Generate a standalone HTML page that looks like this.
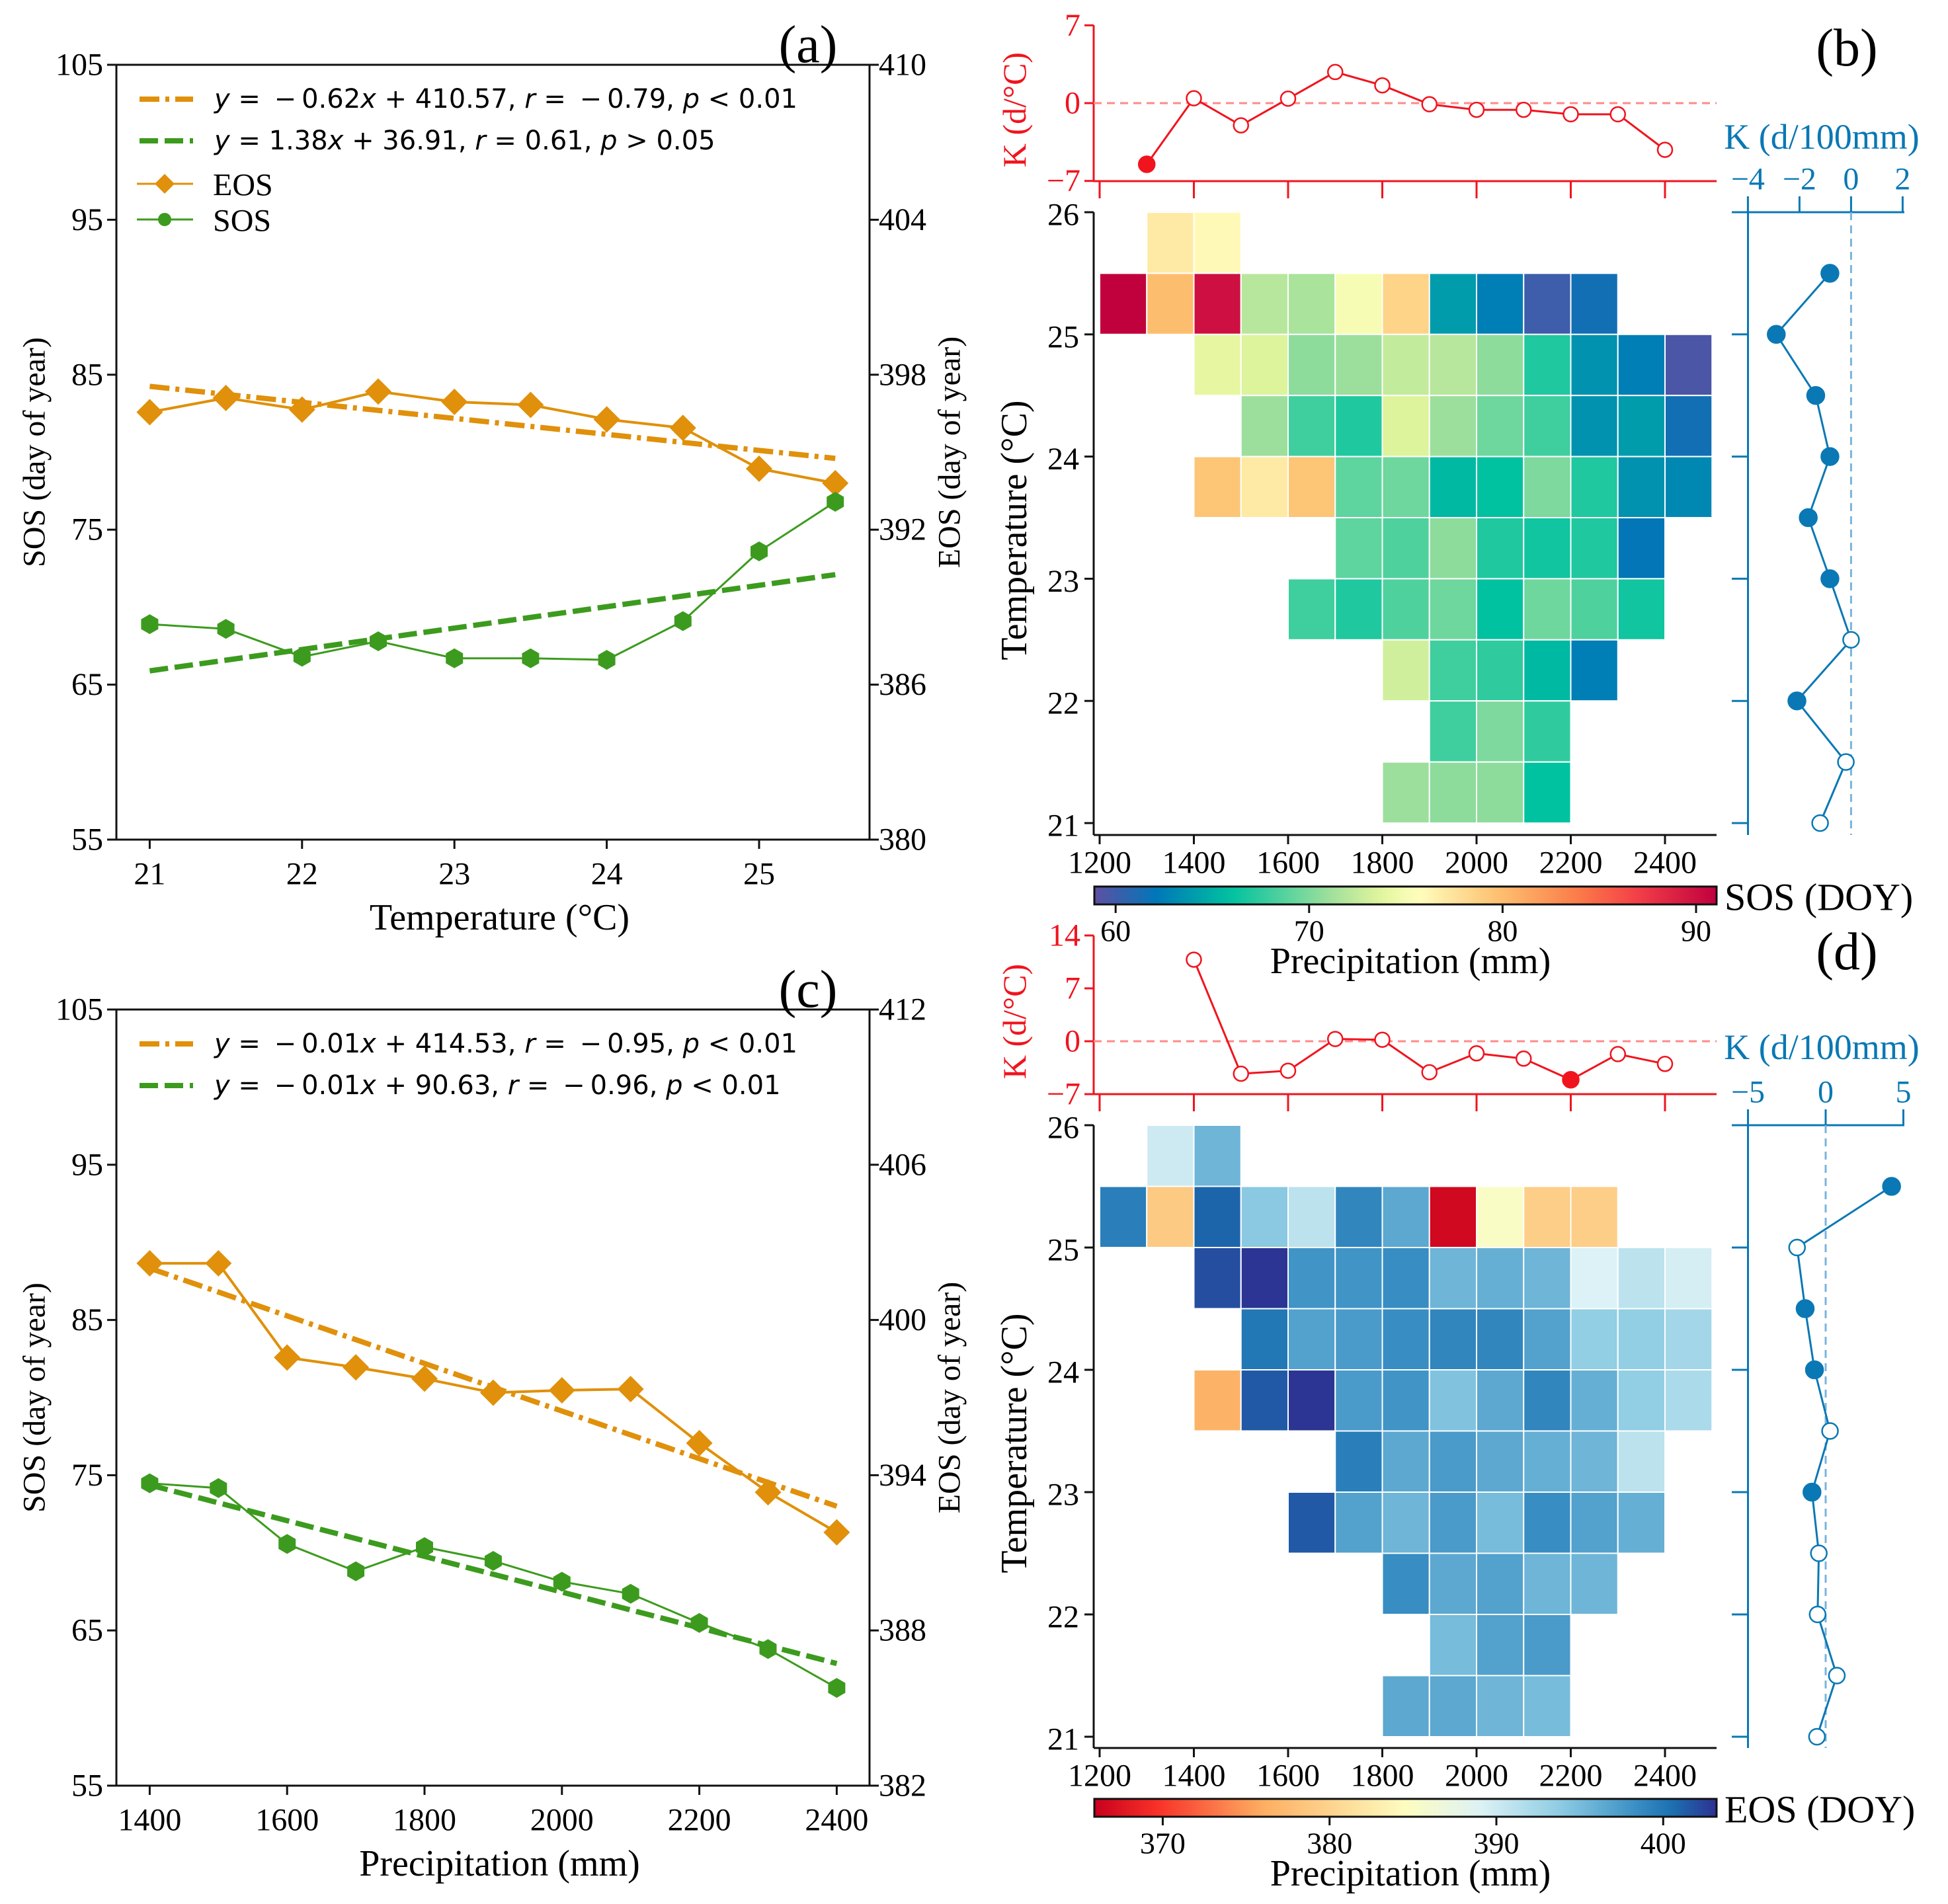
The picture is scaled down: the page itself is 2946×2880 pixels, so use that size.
<!DOCTYPE html>
<html><head><meta charset="utf-8"><style>
html,body{margin:0;padding:0;background:#fff;}
svg{display:block;}
text{font-family:"Liberation Serif",serif;}
.m{font-family:"DejaVu Sans",sans-serif;}
</style></head>
<body>
<svg id="fig" xmlns="http://www.w3.org/2000/svg" width="2946" height="2880" viewBox="0 0 2946 2880"></svg>
<script>
// ---------- DATA ----------
const tempA = [21,21.5,22,22.5,23,23.5,24,24.5,25,25.5];
const eosA = [396.55,397.1,396.65,397.35,396.95,396.83,396.27,395.94,394.36,393.8];
const sosA = [68.9,68.6,66.8,67.8,66.7,66.7,66.6,69.1,73.6,76.8];
const fitEosA = [-0.62,410.57];
const fitSosA = [1.38,36.91];

const precipC = [1400,1500,1600,1700,1800,1900,2000,2100,2200,2300,2400];
const eosC = [402.19,402.19,398.55,398.17,397.73,397.19,397.28,397.33,395.24,393.34,391.79];
const sosC = [74.48,74.17,70.57,68.81,70.37,69.48,68.14,67.36,65.48,63.80,61.30];
const fitEosC = [-0.0092,414.88];
const fitSosC = [-0.0115,90.47];

const kPrecipB = [1300,1400,1500,1600,1700,1800,1900,2000,2100,2200,2300,2400];
const kValB = [-5.5,0.44,-2.0,0.4,2.8,1.6,-0.1,-0.6,-0.6,-1.0,-1.0,-4.2];
const kSigB = [1,0,0,0,0,0,0,0,0,0,0,0];
const kTempLevels = [25.5,25,24.5,24,23.5,23,22.5,22,21.5,21];
const kTValB = [-0.82,-2.9,-1.37,-0.82,-1.66,-0.82,0,-2.1,-0.2,-1.2];
const kTSigB = [1,1,1,1,1,1,0,1,0,0];

const kPrecipD = [1400,1500,1600,1700,1800,1900,2000,2100,2200,2300,2400];
const kValD = [10.8,-4.3,-3.9,0.3,0.2,-4.1,-1.6,-2.3,-5.1,-1.7,-3.0];
const kSigD = [0,0,0,0,0,0,0,0,1,0,0];
const kTValD = [4.24,-1.84,-1.32,-0.72,0.28,-0.88,-0.44,-0.52,0.72,-0.56];
const kTSigD = [1,0,1,1,0,1,0,0,0,0];

const rowT = [25.5,25,24.5,24,23.5,23,22.5,22,21.5,21];
const rowStart = [1300,1200,1400,1500,1400,1700,1600,1800,1900,1800];
const sosRows = [
 [77,76],
 [91,80,90,72,71.5,75,78.5,64,62.5,60,61.5],
 [74,73.5,70.5,71,72.5,72,70.5,67,63.5,62.5,59.5],
 [71,68,67,73.5,71,69.5,68,63.5,64,61.5],
 [79.5,77,79.5,69,69.5,65.5,66,70,67,63.5,63],
 [69,68.5,70.5,67,66.5,67,62],
 [68,67,68.5,69.5,66,69.5,68.5,66.5],
 [73,68,67.5,65.5,62.5],
 [68,70,67.5],
 [71,70.5,70.5,66]
];
const eosRows = [
 [390,395.5],
 [399.5,379,401,394,391,399,396.5,366.5,385,379.5,379.5],
 [402,403,398,398,398.5,395.5,396,395.5,389,391,389.5],
 [400,397,397.5,398.5,399,399,397,393.5,393.5,392.5],
 [376.5,401.5,403,397.5,398,394.5,396.5,399,396,393.5,392],
 [399.5,396.5,397.5,396.5,396,395.5,391],
 [401.5,397,395.5,397.5,395,398.5,397,396],
 [398.5,396.5,397,395.5,395.5],
 [395,397,397.5],
 [396.5,396.5,395.5,395]
];
const sosTicks = [60,70,80,90];
const eosTicks = [370,380,390,400];
const precipTicks = [1200,1400,1600,1800,2000,2200,2400];
const tempTicks = [21,22,23,24,25,26];

// ---------- HELPERS ----------
const NS='http://www.w3.org/2000/svg';
const svg=document.getElementById('fig');
function mk(tag,a,parent){const e=document.createElementNS(NS,tag);for(const k in a)e.setAttribute(k,a[k]);(parent||svg).appendChild(e);return e;}
function txt(s,x,y,size,a,parent){const e=mk('text',Object.assign({x:x,y:y,'font-size':size,'dominant-baseline':'central'},a||{}),parent);e.textContent=s;return e;}
function interp(stops,f){f=Math.max(0,Math.min(1,f));for(let i=1;i<stops.length;i++){if(f<=stops[i][0]){const a=stops[i-1],b=stops[i];const t=(f-a[0])/(b[0]-a[0]||1);const ca=hex(a[1]),cb=hex(b[1]);return 'rgb('+ca.map((c,j)=>Math.round(c+(cb[j]-c)*t)).join(',')+')';}}return stops[stops.length-1][1];}
function hex(h){return [1,3,5].map(i=>parseInt(h.substr(i,2),16));}
const cmapB=[[0,'#5e4fa2'],[0.1,'#0077b8'],[0.22,'#00c2a0'],[0.38,'#a0e09c'],[0.46,'#e2f59c'],[0.52,'#ffffbe'],[0.65,'#fdc070'],[0.78,'#fb7a48'],[0.87,'#f44048'],[1,'#c0003e']];
const cmapD=[[0,'#c8001e'],[0.1,'#f83028'],[0.27,'#fdae61'],[0.5,'#fdfdc0'],[0.62,'#ddf2f6'],[0.75,'#8ccbe2'],[0.87,'#3a8fc4'],[0.93,'#1a6fb0'],[1,'#2e3092']];
const vminB=58.9,vmaxB=91.06,vminD=365.9,vmaxD=403.2;

// ---------- PANEL A / C ----------
const ORANGE='#e0900a', GREEN='#3c9b1e';
function linePanel(cfg){
 const g=mk('g',{});
 
 
 const {L,R,T,B}=cfg;
 const x=cfg.x, yl=v=>T+(105-v)*(B-T)/50, yr=v=>T+(cfg.rTop-v)*(B-T)/30;
 const frame=mk('rect',{x:L,y:T,width:R-L,height:B-T,fill:'none',stroke:'#111','stroke-width':3},g);
 
 
 [55,65,75,85,95,105].forEach(v=>{
  const tk=mk('line',{x1:L-14,x2:L,y1:yl(v),y2:yl(v),stroke:'#111','stroke-width':3},g);
  
  
  const t=txt(String(v),L-20,yl(v),48,{'text-anchor':'end'},g);
  
  
 });
 cfg.rTicks.forEach(v=>{
  const tk=mk('line',{x1:R,x2:R+14,y1:yr(v),y2:yr(v),stroke:'#111','stroke-width':3},g);
  
  
  const t=txt(String(v),R+14,yr(v),48,{'text-anchor':'start'},g);
  
  
 });
 cfg.xTicks.forEach(v=>{
  const tk=mk('line',{x1:x(v),x2:x(v),y1:B,y2:B+14,stroke:'#111','stroke-width':3},g);
  
  
  const t=txt(String(v),x(v),B+52,48,{'text-anchor':'middle'},g);
  
  
 });
 const yt=txt('SOS (day of year)',0,0,48,{'text-anchor':'middle',transform:`translate(${L-124},${(T+B)/2}) rotate(-90)`},g);
 
 
 const yt2=txt('EOS (day of year)',0,0,48,{'text-anchor':'middle',transform:`translate(${R+121},${(T+B)/2}) rotate(-90)`},g);
 
 
 const xt=txt(cfg.xTitle,(L+R)/2+10,B+118,56,{'text-anchor':'middle'},g);
 
 
 const pl=txt(cfg.label,1222,T-30,80,{'text-anchor':'middle'},g);
 
 
 const xs=cfg.xs, x0=xs[0], x1=xs[xs.length-1];
 const fe=mk('line',{x1:x(x0),x2:x(x1),y1:yr(cfg.fitE[0]*x0+cfg.fitE[1]),y2:yr(cfg.fitE[0]*x1+cfg.fitE[1]),stroke:ORANGE,'stroke-width':8,'stroke-dasharray':'30 9 6 9'},g);
 
 
 const fs=mk('line',{x1:x(x0),x2:x(x1),y1:yl(cfg.fitS[0]*x0+cfg.fitS[1]),y2:yl(cfg.fitS[0]*x1+cfg.fitS[1]),stroke:GREEN,'stroke-width':8,'stroke-dasharray':'28 10'},g);
 
 
 const pe=mk('polyline',{points:xs.map((v,i)=>x(v)+','+yr(cfg.eos[i])).join(' '),fill:'none',stroke:ORANGE,'stroke-width':4},g);
 
 
 xs.forEach((v,i)=>{const cx=x(v),cy=yr(cfg.eos[i]);
  const d=mk('polygon',{points:`${cx},${cy-20} ${cx+20},${cy} ${cx},${cy+20} ${cx-20},${cy}`,fill:ORANGE},g);
  
  });
 const ps=mk('polyline',{points:xs.map((v,i)=>x(v)+','+yl(cfg.sos[i])).join(' '),fill:'none',stroke:GREEN,'stroke-width':3},g);
 
 
 xs.forEach((v,i)=>{const cx=x(v),cy=yl(cfg.sos[i]);const r=15;
  const pts=[];for(let k=0;k<6;k++){const a=Math.PI/6+k*Math.PI/3;pts.push((cx+r*Math.cos(a))+','+(cy+r*Math.sin(a)));}
  const h=mk('polygon',{points:pts.join(' '),fill:GREEN},g);
  
  });
 const lg=mk('g',{},g);
 
 
 const ly1=T+52, ly2=T+115;
 const l1=mk('line',{x1:211,x2:292,y1:ly1,y2:ly1,stroke:ORANGE,'stroke-width':8,'stroke-dasharray':'30 9 6 9'},lg);
 
 
 const l2=mk('line',{x1:211,x2:292,y1:ly2,y2:ly2,stroke:GREEN,'stroke-width':8,'stroke-dasharray':'28 10'},lg);
 
 
 [[cfg.eq1,ly1],[cfg.eq2,ly2]].forEach((q,qi)=>{
  const t=mk('text',{x:324,y:q[1],'font-size':40,'dominant-baseline':'central',class:'m','xml:space':'preserve'},lg);
  
  
  q[0].forEach(p=>{const s=document.createElementNS(NS,'tspan');if(p[1])s.setAttribute('font-style','italic');s.textContent=p[0];t.appendChild(s);});
 });
 if(cfg.markerLegend){
  const ey=T+180, sy=T+234;
  const a1=mk('line',{x1:207,x2:292,y1:ey,y2:ey,stroke:ORANGE,'stroke-width':3},lg);
  
  
  const a2=mk('polygon',{points:`249,${ey-15} 264,${ey} 249,${ey+15} 234,${ey}`,fill:ORANGE},lg);
  
  
  const b1=mk('line',{x1:207,x2:292,y1:sy,y2:sy,stroke:GREEN,'stroke-width':3},lg);
  
  
  const b2=mk('circle',{cx:249,cy:sy,r:10,fill:GREEN},lg);
  
  
  const e1=txt('EOS',322,ey+2,48,{},lg);
  
  
  const e2=txt('SOS',322,sy+2,48,{},lg);
  
  
 }
}
linePanel({name:'panel-a',L:176,R:1315,T:98,B:1270,x:t=>226.4+(t-21)*230.4,xs:tempA,eos:eosA,sos:sosA,fitE:fitEosA,fitS:fitSosA,
 rTop:410,rTicks:[410,404,398,392,386,380],xTicks:[21,22,23,24,25],xTitle:'Temperature (°C)',label:'(a)',markerLegend:true,
 eq1:[['y',1],[' = \u2009−\u20090.62',0],['x',1],[' + 410.57,  ',0],['r',1],[' = \u2009−\u20090.79,  ',0],['p',1],[' < 0.01',0]],
 eq2:[['y',1],[' = 1.38',0],['x',1],[' + 36.91,  ',0],['r',1],[' = 0.61,  ',0],['p',1],[' > 0.05',0]]});
linePanel({name:'panel-c',L:176,R:1315,T:1527,B:2701,x:p=>226.4+(p-1400)*1.039,xs:precipC,eos:eosC,sos:sosC,fitE:fitEosC,fitS:fitSosC,
 rTop:412,rTicks:[412,406,400,394,388,382],xTicks:[1400,1600,1800,2000,2200,2400],xTitle:'Precipitation (mm)',label:'(c)',markerLegend:false,
 eq1:[['y',1],[' = \u2009−\u20090.01',0],['x',1],[' + 414.53,  ',0],['r',1],[' = \u2009−\u20090.95,  ',0],['p',1],[' < 0.01',0]],
 eq2:[['y',1],[' = \u2009−\u20090.01',0],['x',1],[' + 90.63,  ',0],['r',1],[' = \u2009−\u20090.96,  ',0],['p',1],[' < 0.01',0]]});

// ---------- PANEL B / D ----------
const RED='#f0141e', BLUE='#0a78b4';
const hx=p=>1663+(p-1200)*0.7125;
function heatPanel(cfg){
 const g=mk('g',{});
 
 
 const hy=cfg.hy, HT=hy(26), HB=cfg.HB, HL=1654, HR=2596;
 const ky=cfg.ky, KT=cfg.KT, KB=cfg.KB;
 const ls=mk('line',{x1:HL,x2:HL,y1:KT,y2:KB,stroke:RED,'stroke-width':3},g);
 
 
 const bs=mk('line',{x1:HL,x2:HR,y1:KB,y2:KB,stroke:RED,'stroke-width':3},g);
 
 
 precipTicks.forEach(p=>{const t=mk('line',{x1:hx(p),x2:hx(p),y1:KB,y2:KB+26,stroke:RED,'stroke-width':3},g);
  
  });
 cfg.kTicks.forEach(v=>{
  const t=mk('line',{x1:HL-14,x2:HL,y1:ky(v),y2:ky(v),stroke:RED,'stroke-width':3},g);
  
  
  const l=txt(v<0?'−'+(-v):String(v),HL-20,ky(v),48,{'text-anchor':'end',fill:RED},g);
  
  
 });
 const zd=mk('line',{x1:HL,x2:HR,y1:ky(0),y2:ky(0),stroke:'#ff8a8a','stroke-width':3,'stroke-dasharray':'12 8'},g);
 
 
 const kt=txt('K (d/°C)',0,0,50,{'text-anchor':'middle',fill:RED,transform:`translate(1534,${(KT+KB)/2+10}) rotate(-90)`},g);
 
 
 const kl=mk('polyline',{points:cfg.kP.map((p,i)=>hx(p)+','+ky(cfg.kV[i])).join(' '),fill:'none',stroke:RED,'stroke-width':3},g);
 
 
 cfg.kP.forEach((p,i)=>{const c=mk('circle',{cx:hx(p),cy:ky(cfg.kV[i]),r:cfg.kS[i]?12:11,fill:cfg.kS[i]?RED:'#fff',stroke:RED,'stroke-width':2.5},g);
  
  });
 rowT.forEach((t,ri)=>{
  cfg.rows[ri].forEach((v,ci)=>{const p=rowStart[ri]+ci*100;
   const r=mk('rect',{x:hx(p),y:hy(t+0.5),width:hx(p+100)-hx(p),height:hy(t)-hy(t+0.5),fill:interp(cfg.cmap,(v-cfg.vmin)/(cfg.vmax-cfg.vmin)),stroke:'#fff','stroke-width':2},g);
   
   });
 });
 const hl=mk('line',{x1:HL,x2:HL,y1:HT,y2:HB,stroke:'#111','stroke-width':3},g);
 
 
 const hb=mk('line',{x1:HL,x2:HR,y1:HB,y2:HB,stroke:'#111','stroke-width':3},g);
 
 
 tempTicks.forEach(t=>{
  const k=mk('line',{x1:HL-14,x2:HL,y1:hy(t),y2:hy(t),stroke:'#111','stroke-width':3},g);
  
  
  const l=txt(String(t),HL-22,hy(t)+4,48,{'text-anchor':'end'},g);
  
  
 });
 precipTicks.forEach(p=>{
  const k=mk('line',{x1:hx(p),x2:hx(p),y1:HB,y2:HB+14,stroke:'#111','stroke-width':3},g);
  
  
  const l=txt(String(p),hx(p),HB+42,48,{'text-anchor':'middle'},g);
  
  
 });
 const yt=txt('Temperature (°C)',0,0,56,{'text-anchor':'middle',transform:`translate(1534,${(HT+HB)/2+10}) rotate(-90)`},g);
 
 
 const AX=2643.5, rx=cfg.rx;
 const va=mk('line',{x1:AX,x2:AX,y1:HT,y2:HB,stroke:BLUE,'stroke-width':3},g);
 
 
 const ta=mk('line',{x1:2619,x2:2880,y1:HT,y2:HT,stroke:BLUE,'stroke-width':3},g);
 
 
 cfg.rTicks.forEach(v=>{
  const k=mk('line',{x1:rx(v),x2:rx(v),y1:HT-24,y2:HT,stroke:BLUE,'stroke-width':3},g);
  
  
  const l=txt(v<0?'−'+(-v):String(v),rx(v),HT-50,48,{'text-anchor':'middle',fill:BLUE},g);
  
  
 });
 [21,22,23,24,25].forEach(t=>{const k=mk('line',{x1:2619,x2:AX,y1:hy(t),y2:hy(t),stroke:BLUE,'stroke-width':3},g);
  
  });
 const rz=mk('line',{x1:rx(0),x2:rx(0),y1:HT,y2:HB,stroke:'#7ab4dc','stroke-width':3,'stroke-dasharray':'12 8'},g);
 
 
 const rt=txt('K (d/100mm)',2755,cfg.rTitleY,54,{'text-anchor':'middle',fill:BLUE},g);
 
 
 const rl=mk('polyline',{points:kTempLevels.map((t,i)=>rx(cfg.rV[i])+','+hy(t)).join(' '),fill:'none',stroke:BLUE,'stroke-width':3},g);
 
 
 kTempLevels.forEach((t,i)=>{const c=mk('circle',{cx:rx(cfg.rV[i]),cy:hy(t),r:cfg.rS[i]?13:12,fill:cfg.rS[i]?BLUE:'#fff',stroke:BLUE,'stroke-width':2.5},g);
  
  });
 const gid='grad'+cfg.name;
 const defs=mk('defs',{},g);
 const lg=mk('linearGradient',{id:gid,x1:0,x2:1,y1:0,y2:0},defs);
 for(let i=0;i<=40;i++){mk('stop',{offset:i/40,'stop-color':interp(cfg.cmap,i/40)},lg);}
 const cb=mk('rect',{x:1655,y:cfg.cbY,width:941,height:27,fill:`url(#${gid})`,stroke:'#111','stroke-width':3},g);
 
 
 const cbx=v=>1655+(v-cfg.vmin)/(cfg.vmax-cfg.vmin)*941;
 cfg.cbTicks.forEach(v=>{
  const k=mk('line',{x1:cbx(v),x2:cbx(v),y1:cfg.cbY+27,y2:cfg.cbY+40,stroke:'#111','stroke-width':3},g);
  
  
  const l=txt(String(v),cbx(v),cfg.cbY+67,46,{'text-anchor':'middle'},g);
  
  
 });
 const cl=txt(cfg.cbLabel,2608,cfg.cbY+16,58,{},g);
 
 
 const px=txt('Precipitation (mm)',2133,cfg.cbY+113,56,{'text-anchor':'middle'},g);
 
 
 const pl=txt(cfg.label,2793,cfg.labelY,80,{'text-anchor':'middle'},g);
 
 
}
heatPanel({name:'panel-b',hy:t=>321+(26-t)*184.8,HB:1263,ky:k=>156-k*(117.7/7),KT:38,KB:274,kTicks:[7,0,-7],
 kP:kPrecipB,kV:kValB,kS:kSigB,rows:sosRows,cmap:cmapB,vmin:vminB,vmax:vmaxB,
 rx:k=>2799.4+k*39,rTicks:[-4,-2,0,2],rV:kTValB,rS:kTSigB,rTitleY:207,
 cbY:1341,cbTicks:sosTicks,cbLabel:'SOS (DOY)',label:'(b)',labelY:73});
heatPanel({name:'panel-d',hy:t=>1702+(26-t)*185,HB:2644,ky:k=>1575-k*(80/7),KT:1415,KB:1655,kTicks:[14,7,0,-7],
 kP:kPrecipD,kV:kValD,kS:kSigD,rows:eosRows,cmap:cmapD,vmin:vminD,vmax:vmaxD,
 rx:k=>2761+k*23.5,rTicks:[-5,0,5],rV:kTValD,rS:kTSigD,rTitleY:1584,
 cbY:2721,cbTicks:eosTicks,cbLabel:'EOS (DOY)',label:'(d)',labelY:1440});
</script>
</body></html>
